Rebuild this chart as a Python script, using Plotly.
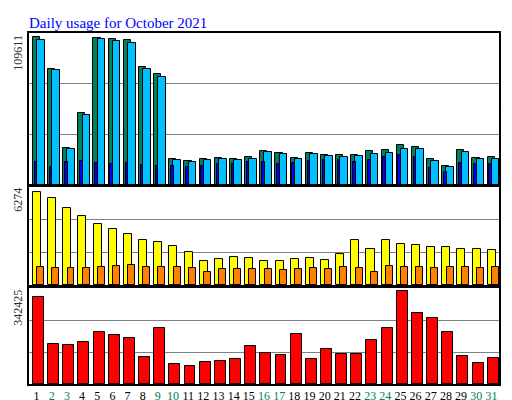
import plotly.graph_objects as go
from plotly.subplots import make_subplots

days = list(range(1, 32))
weekend = {2, 3, 9, 10, 16, 17, 23, 24, 30, 31}

hits = [109611, 85946, 27650, 53060, 108864, 108116, 107369, 87440, 82209, 19182,
        17687, 19182, 19929, 19182, 20676, 25160, 23665, 19929, 23665, 22170,
        22170, 22170, 25160, 25907, 29644, 28149, 19182, 13951, 25907, 19929, 20676]
files = [107362, 84943, 26654, 52062, 108109, 106615, 105120, 85690, 79712, 18433,
         16939, 18433, 19181, 18433, 19181, 24412, 22917, 19181, 22917, 21423,
         20675, 21423, 22917, 23665, 26654, 26654, 17686, 13202, 24412, 19181, 19181]
pages = [16939, 13202, 16939, 17686, 16192, 15444, 16192, 14697, 13950, 13950,
         13202, 13950, 15444, 15444, 16939, 16939, 15444, 16192, 17686, 18433,
         18433, 16939, 18433, 20675, 22170, 20675, 12455, 9466, 16192, 15444, 15444]
visits = [6274, 5863, 5247, 4700, 4152, 3810, 3468, 3057, 2920, 2647,
          2236, 1620, 1757, 1894, 1825, 1620, 1620, 1757, 1825, 1688,
          2099, 3057, 2441, 3057, 2783, 2715, 2578, 2578, 2441, 2441, 2373]
sites = [1209, 1141, 1141, 1141, 1209, 1278, 1346, 1209, 1209, 1209,
         1141, 867, 1072, 1072, 1072, 1072, 1004, 1072, 1141, 1072,
         1209, 1141, 867, 1278, 1209, 1209, 1141, 1209, 1209, 1141, 1209]
kbytes = [322355, 149262, 145499, 156788, 190654, 179365, 171839, 100344, 205705, 74004,
          66478, 81530, 85292, 92818, 141736, 115396, 107870, 183128, 92818, 130447,
          111633, 111633, 164313, 205705, 342425, 262149, 243334, 190654, 104107, 77767, 96581]

SERIF = "Liberation Serif, DejaVu Serif, serif"
GRID = "#808080"

fig = make_subplots(rows=3, cols=1)

def add_bar(y, color, offset, width, row):
    fig.add_trace(go.Bar(x=days, y=y, offset=offset, width=width,
                         marker=dict(color=color, line=dict(color="black", width=1)),
                         showlegend=False), row=row, col=1)

add_bar(hits, "#008060", -0.25, 0.47, 1)
add_bar(files, "#00c0ff", 0.03, 0.5, 1)
add_bar(pages, "#0000ff", -0.13, 0.17, 1)
add_bar(visits, "#ffff00", -0.24, 0.53, 2)
add_bar(sites, "#ff8000", 0.04, 0.46, 2)
add_bar(kbytes, "#ff0000", -0.24, 0.72, 3)

ymax = [112600, 6705, 354840]
domains = [[0.567, 1.0], [0.282, 0.564], [0.0, 0.2735]]
for i in range(3):
    ax = "" if i == 0 else str(i + 1)
    fig.layout["yaxis" + ax].update(
        domain=domains[i], range=[0, ymax[i]], automargin=False,
        tickvals=[ymax[i] / 3, 2 * ymax[i] / 3], showticklabels=False, ticks="",
        showgrid=True, gridcolor=GRID, gridwidth=1, zeroline=False,
        showline=True, linecolor="black", linewidth=1.5, mirror=True)
    fig.layout["xaxis" + ax].update(
        range=[0.5, 31.5], showgrid=False, zeroline=False, automargin=False,
        showline=True, linecolor="black", linewidth=1.5, mirror=True,
        showticklabels=(i == 2), ticks="",
        tickvals=days,
        ticktext=[f"<span style='color:{'#008060' if d in weekend else 'black'}'>{d}</span>" for d in days],
        tickfont=dict(family=SERIF, size=12))

tops = [(1.0, "109611"), (0.564, "6274"), (0.2735, "342425")]
for y, t in tops:
    fig.add_annotation(x=-0.005, y=y, xref="paper", yref="paper", text=t, textangle=-90,
                       showarrow=False, xanchor="right", yanchor="top",
                       font=dict(family=SERIF, size=12, color="#303030"))

rights = [
    (0.78, "<span style='color:#00c0ff'>Pages</span> / <span style='color:#0000ff'>Files</span> / <span style='color:#008060'>Hits</span>"),
    (0.42, "<span style='color:#ff8000'>Sites</span> / <span style='color:#ffff00'>Visits</span>"),
    (0.135, "<span style='color:#ff0000'>KBytes</span>"),
]
for y, t in rights:
    fig.add_annotation(x=1.003, y=y, xref="paper", yref="paper", text="<b>" + t + "</b>",
                       textangle=-90, showarrow=False, xanchor="left", yanchor="middle",
                       font=dict(family=SERIF, size=12, color="black"))

fig.update_layout(
    width=512, height=400,
    margin=dict(l=21, r=21, t=25, b=24, autoexpand=False),
    paper_bgcolor="white", plot_bgcolor="white",
    barmode="overlay", bargap=0,
    title=dict(text="Daily usage for October 2021", x=21 / 512, xanchor="left",
               y=0.9625, yanchor="middle", automargin=False,
               font=dict(family=SERIF, size=15, color="#0000ff")),
)

fig.write_html("out.html")
